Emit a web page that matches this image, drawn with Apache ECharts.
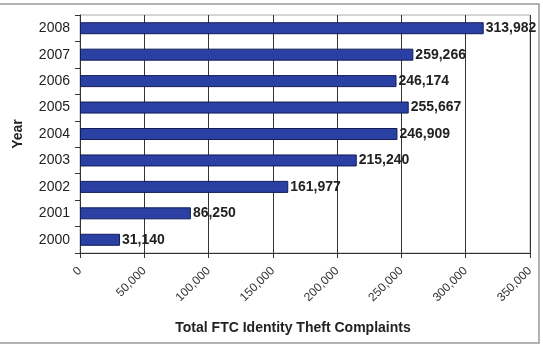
<html>
<head>
<meta charset="utf-8">
<script src="https://cdn.jsdelivr.net/npm/echarts@6/dist/echarts.min.js"></script>
</head>
<body>
<style>
    html, body, #main {
        width: 100%;
        height: 100%;
        margin: 0;
        background: #fff;
    }
</style>
<div id='main'></div>
<script>
var years = ['2000', '2001', '2002', '2003', '2004', '2005', '2006', '2007', '2008'];
var complaints = [31140, 86250, 161977, 215240, 246909, 255667, 246174, 259266, 313982];
var xTitle = 'Total FTC Identity Theft Complaints';
var yTitle = 'Year';

function fmt(v) {
    return String(v).replace(/\B(?=(\d{3})+(?!\d))/g, ',');
}

var chart = echarts.init(document.getElementById('main'));
var option = {
    animation: false,
    textStyle: { fontFamily: 'Liberation Sans, Arial, sans-serif' },
    graphic: [{
        type: 'rect',
        shape: { x: -2, y: 4, width: 541, height: 339 },
        style: { fill: 'none', stroke: '#999', lineWidth: 1.5 }
    }],
    grid: { left: 80, right: 13, top: 15, bottom: 95, show: true, borderColor: '#aaa', borderWidth: 1 },
    xAxis: {
        type: 'value',
        min: 0,
        max: 350000,
        interval: 50000,
        name: xTitle,
        nameLocation: 'middle',
        nameGap: 68,
        nameTextStyle: { fontWeight: 'bold', fontSize: 14, color: '#222', padding: [0, 24, 0, 0] },
        axisLine: { show: true, lineStyle: { color: '#333' } },
        axisTick: { show: true, length: 5, lineStyle: { color: '#333' } },
        splitLine: { show: true, lineStyle: { color: '#333' } },
        axisLabel: {
            rotate: 45,
            fontSize: 12,
            color: '#333',
            margin: 16,
            formatter: function (v) { return fmt(v); }
        }
    },
    yAxis: {
        type: 'category',
        data: years,
        name: yTitle,
        nameLocation: 'middle',
        nameGap: 55,
        nameRotate: 90,
        nameTextStyle: { fontWeight: 'bold', fontSize: 14, color: '#222' },
        axisLine: { show: true, lineStyle: { color: '#333' } },
        axisTick: { show: true, length: 5, lineStyle: { color: '#333' } },
        axisLabel: { fontSize: 14, color: '#222', margin: 10 }
    },
    series: [{
        type: 'bar',
        data: complaints,
        barWidth: 12,
        itemStyle: { color: '#2b40a3', borderColor: '#121c58', borderWidth: 1 },
        label: {
            show: true,
            position: 'right',
            distance: 2,
            fontWeight: 'bold',
            fontSize: 14,
            color: '#222',
            formatter: function (p) { return fmt(p.value); }
        }
    }]
};
chart.setOption(option);
</script>
</body>
</html>
